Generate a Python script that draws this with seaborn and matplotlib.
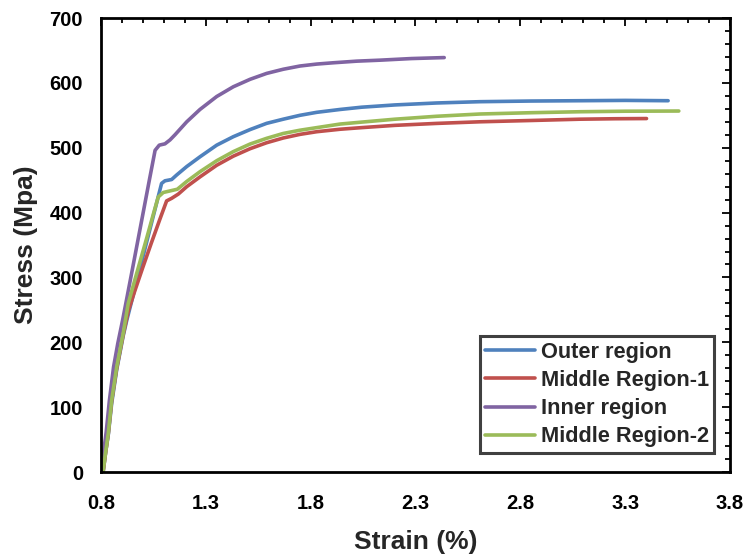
import matplotlib
matplotlib.use("Agg")
import matplotlib.pyplot as plt
from matplotlib.ticker import MultipleLocator, FormatStrFormatter
import numpy as np
import pandas as pd
import seaborn as sns

# Stress-strain curves of the four regions (strain in %, stress in MPa)
outer_strain = [0.81, 0.822, 0.835, 0.851, 0.875, 0.906, 0.923, 0.95, 0.99, 1.03, 1.06, 1.089,
                1.105, 1.137, 1.161, 1.209, 1.272, 1.352, 1.431, 1.511, 1.59, 1.669, 1.749,
                1.829, 1.94, 2.043, 2.202, 2.40, 2.607, 2.85, 3.084, 3.30, 3.505]
outer_stress = [0, 30, 58, 106, 158, 210, 234, 268, 319, 370, 408, 445,
                449, 451, 458, 471, 486, 504, 517, 528, 537.6, 544, 550,
                554.6, 559, 562.5, 566, 569, 571, 572, 572.5, 573, 572.5]

middle1_strain = [0.81, 0.822, 0.835, 0.851, 0.875, 0.906, 0.93, 0.96, 1.00, 1.04, 1.08, 1.113,
                  1.137, 1.169, 1.209, 1.272, 1.352, 1.431, 1.511, 1.59, 1.669, 1.749, 1.829,
                  1.94, 2.043, 2.202, 2.40, 2.607, 2.85, 3.084, 3.25, 3.402]
middle1_stress = [0, 30, 60, 110, 160, 212, 248, 278, 316, 353, 389, 418,
                  422, 428.6, 440, 455, 473, 487, 498.5, 507.7, 515, 520.6, 524.7,
                  528.5, 531, 534.5, 537.5, 540, 542, 544, 544.7, 545]

inner_strain = [0.80, 0.812, 0.825, 0.84, 0.86, 0.88, 0.903, 0.95, 1.00, 1.03, 1.058, 1.078,
                1.105, 1.129, 1.153, 1.209, 1.272, 1.352, 1.431, 1.511, 1.59, 1.669, 1.749,
                1.829, 1.908, 2.02, 2.13, 2.28, 2.437]
inner_stress = [0, 30, 62, 110, 162, 198, 234, 313, 398, 449, 496, 504,
                506, 512, 520, 540, 559, 579, 594, 605.5, 614.6, 621, 626,
                629, 631, 633.5, 635, 637.5, 639]

middle2_strain = [0.81, 0.822, 0.835, 0.851, 0.875, 0.906, 0.93, 0.97, 1.02, 1.05, 1.073, 1.097,
                  1.137, 1.164, 1.209, 1.272, 1.352, 1.431, 1.511, 1.59, 1.669, 1.749, 1.829,
                  1.94, 2.043, 2.202, 2.40, 2.607, 2.85, 3.084, 3.30, 3.556]
middle2_stress = [0, 30, 60, 111, 162, 214, 260, 306, 363, 398, 424, 431,
                  434, 436, 448, 463, 480, 494, 505.7, 514.5, 522, 527, 531,
                  536.5, 539.5, 544, 548.5, 552, 554, 555.5, 556.3, 556.6]

region_names = ["Outer region", "Middle Region-1", "Inner region", "Middle Region-2"]
region_colors = ["#4F81BD", "#C0504D", "#8064A2", "#9BBB59"]

x_ticks = [0.8, 1.3, 1.8, 2.3, 2.8, 3.3, 3.8]
y_ticks = [0, 100, 200, 300, 400, 500, 600, 700]

frames = []
for name, xs, ys in zip(region_names,
                        [outer_strain, middle1_strain, inner_strain, middle2_strain],
                        [outer_stress, middle1_stress, inner_stress, middle2_stress]):
    frames.append(pd.DataFrame({"strain": xs, "stress": ys, "region": name,
                                "order": np.arange(len(xs))}))
df = pd.concat(frames, ignore_index=True)

sns.set_theme(style="white")
plt.rcParams["font.family"] = ["Liberation Sans", "DejaVu Sans"]
plt.rcParams["font.weight"] = "bold"
plt.rcParams["lines.solid_joinstyle"] = "round"

fig = plt.figure(figsize=(7.47, 5.58), dpi=100)
ax = fig.add_axes([0.1352, 0.1541, 0.8420, 0.8136])

sns.lineplot(data=df, x="strain", y="stress", hue="region", hue_order=region_names,
             palette=dict(zip(region_names, region_colors)), sort=False,
             estimator=None, units="region", linewidth=2.6, ax=ax)

ax.set_xlim(x_ticks[0], x_ticks[-1])
ax.set_ylim(y_ticks[0], y_ticks[-1])
ax.set_xticks(x_ticks)
ax.set_yticks(y_ticks)
ax.xaxis.set_major_formatter(FormatStrFormatter("%.1f"))
ax.xaxis.set_minor_locator(MultipleLocator(0.1))
ax.yaxis.set_minor_locator(MultipleLocator(20))

ax.tick_params(which="both", direction="in", top=True, right=True, colors="black",
               width=1.3, labelsize=14.5)
ax.tick_params(axis="x", which="major", length=6, pad=16)
ax.tick_params(axis="y", which="major", length=6, pad=13)
ax.tick_params(which="minor", length=3.5)
for lab in ax.get_xticklabels() + ax.get_yticklabels():
    lab.set_fontweight("bold")

for sp in ax.spines.values():
    sp.set_color("black")
    sp.set_linewidth(2.0)

ax.set_xlabel("Strain (%)", fontsize=19, fontweight="bold", labelpad=12)
ax.set_ylabel("Stress (Mpa)", fontsize=19, fontweight="bold", labelpad=8)

handles, labels = ax.get_legend_handles_labels()
leg = ax.legend(handles, labels, loc="lower right", bbox_to_anchor=(0.975, 0.042),
                borderaxespad=0, fancybox=False, frameon=True,
                handlelength=2.3, handletextpad=0.25, labelspacing=0.33,
                borderpad=0.25, prop={"weight": "bold", "size": 15.7})
leg.get_frame().set_edgecolor("#404040")
leg.get_frame().set_linewidth(2.2)
leg.get_frame().set_alpha(1)

fig.savefig("out.png", dpi=100)
